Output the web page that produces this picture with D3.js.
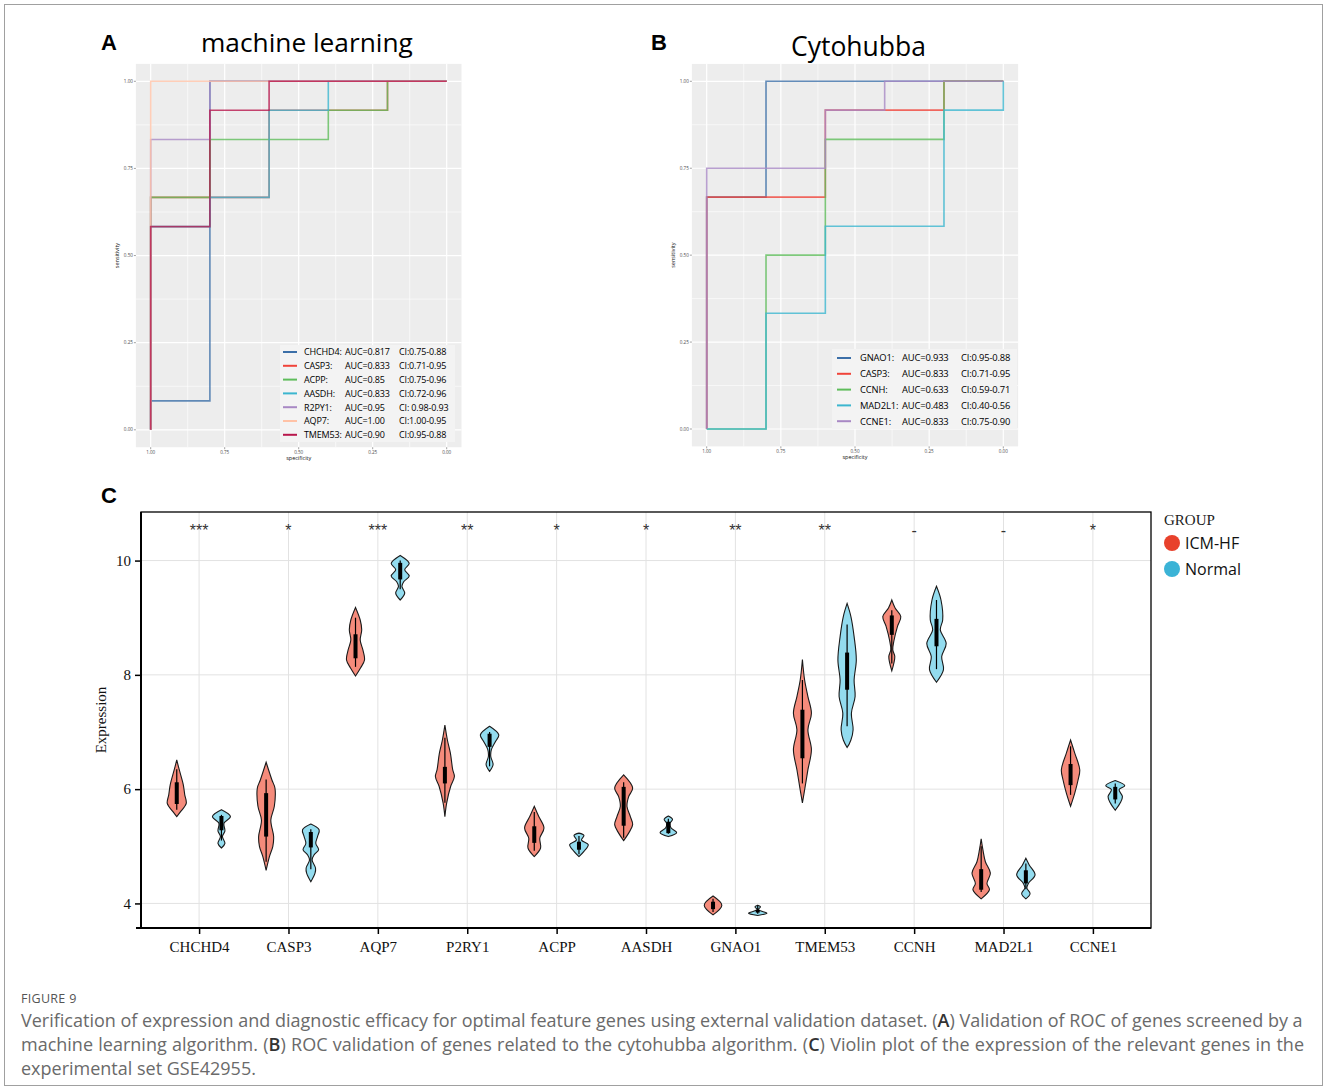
<!DOCTYPE html>
<html><head><meta charset="utf-8">
<script src="https://cdn.jsdelivr.net/npm/d3@7"></script>
<style>body{margin:0;background:#fff;} svg{display:block;}</style>
</head><body>
<script>
// ---------------- DATA ----------------
// Panel A: ROC (machine learning genes)
const rocGenesA = ["CHCHD4","CASP3","ACPP","AASDH","R2PY1","AQP7","TMEM53"];
const rocColorsA = ["#3C6FA8","#F0443A","#5FBD5B","#3CB6CF","#A888C4","#FFC2A6","#B8174C"];
const rocAucA = ["AUC=0.817","AUC=0.833","AUC=0.85","AUC=0.833","AUC=0.95","AUC=1.00","AUC=0.90"];
const rocCiA = ["CI:0.75-0.88","CI:0.71-0.95","CI:0.75-0.96","CI:0.72-0.96","CI: 0.98-0.93","CI:1.00-0.95","CI:0.95-0.88"];
const rocSpecA = [
  [1,1,0.8,0.8,0],
  [1,1,0.6,0.6,0.2,0.2,0],
  [1,1,0.8,0.8,0.4,0.4,0.2,0.2,0],
  [1,1,0.8,0.8,0.6,0.6,0.4,0.4,0],
  [1,1,0.8,0.8,0],
  [1,1,0],
  [1,1,0.8,0.8,0.6,0.6,0]
];
const rocSensA = [
  [0,0.083,0.083,1,1],
  [0,0.667,0.667,0.917,0.917,1,1],
  [0,0.667,0.667,0.833,0.833,0.917,0.917,1,1],
  [0,0.583,0.583,0.667,0.667,0.917,0.917,1,1],
  [0,0.833,0.833,1,1],
  [0,1,1],
  [0,0.583,0.583,0.917,0.917,1,1]
];
// Panel B: ROC (cytohubba genes)
const rocGenesB = ["GNAO1","CASP3","CCNH","MAD2L1","CCNE1"];
const rocColorsB = ["#3C6FA8","#F0443A","#5FBD5B","#3CB6CF","#A888C4"];
const rocAucB = ["AUC=0.933","AUC=0.833","AUC=0.633","AUC=0.483","AUC=0.833"];
const rocCiB = ["CI:0.95-0.88","CI:0.71-0.95","CI:0.59-0.71","CI:0.40-0.56","CI:0.75-0.90"];
const rocSpecB = [
  [1,1,0.8,0.8,0],
  [1,1,0.6,0.6,0.2,0.2,0],
  [1,0.8,0.8,0.6,0.6,0.2,0.2,0],
  [1,0.8,0.8,0.6,0.6,0.2,0.2,0,0],
  [1,1,0.6,0.6,0.4,0.4,0]
];
const rocSensB = [
  [0,0.667,0.667,1,1],
  [0,0.667,0.667,0.917,0.917,1,1],
  [0,0,0.5,0.5,0.833,0.833,1,1],
  [0,0,0.333,0.333,0.583,0.583,0.917,0.917,1],
  [0,0.75,0.75,0.917,0.917,1,1]
];
const rocTicks = [0,0.25,0.5,0.75,1];
const rocTickLabels = ["0.00","0.25","0.50","0.75","1.00"];
const rocMinor = [0.125,0.375,0.625,0.875];

// Panel C: violin plot
const genes = ["CHCHD4","CASP3","AQP7","P2RY1","ACPP","AASDH","GNAO1","TMEM53","CCNH","MAD2L1","CCNE1"];
const signif = ["***","*","***","**","*","*","**","**","-","-","*"];
const groups = ["ICM-HF","Normal"];
const groupFill = ["#F58B7B","#93DCEF"];
const groupDot = ["#E8412C","#3BB3D6"];
const yTicksC = [4,6,8,10];
// density profiles: [expression value, relative density]
const icmProfiles = [
  [[6.51,0],[6.34,0.25],[6.08,0.65],[5.90,0.8],[5.75,0.95],[5.61,0.4],[5.52,0]],
  [[6.47,0],[6.16,0.58],[6.02,0.88],[5.70,0.82],[5.46,0.47],[5.17,0.75],[5.0,0.67],[4.82,0.33],[4.58,0]],
  [[9.18,0],[8.96,0.47],[8.79,0.62],[8.61,0.47],[8.44,0.73],[8.26,0.9],[8.12,0.5],[7.98,0]],
  [[7.12,0],[6.86,0.25],[6.63,0.55],[6.34,0.78],[6.22,0.95],[6.05,0.58],[5.76,0.18],[5.52,0]],
  [[5.70,0],[5.52,0.45],[5.32,0.97],[5.14,0.55],[4.97,0.63],[4.82,0]],
  [[6.25,0],[6.02,0.9],[5.87,0.5],[5.70,0.33],[5.52,0.67],[5.38,0.9],[5.23,0.5],[5.10,0]],
  [[4.13,0],[3.97,0.88],[3.80,0]],
  [[8.27,0],[7.91,0.22],[7.62,0.55],[7.33,0.9],[7.04,0.55],[6.69,0.9],[6.34,0.55],[6.05,0.28],[5.76,0]],
  [[9.31,0],[9.17,0.33],[9.02,0.9],[8.85,0.57],[8.61,0.23],[8.44,0.1],[8.32,0.3],[8.07,0]],
  [[5.13,0],[4.94,0.17],[4.73,0.42],[4.53,0.92],[4.35,0.58],[4.24,0.83],[4.08,0]],
  [[6.86,0],[6.63,0.42],[6.34,0.92],[6.16,0.75],[5.93,0.42],[5.70,0]]
];
const normalProfiles = [
  [[5.64,0],[5.52,0.9],[5.40,0.25],[5.27,0.35],[5.17,0.1],[5.05,0.35],[4.97,0]],
  [[5.39,0],[5.29,0.83],[5.17,0.67],[5.05,0.5],[4.94,0.78],[4.85,0.33],[4.76,0.13],[4.62,0.47],[4.53,0.42],[4.38,0]],
  [[10.09,0],[9.95,0.9],[9.84,0.45],[9.73,0.9],[9.63,0.35],[9.55,0.17],[9.43,0.45],[9.31,0]],
  [[7.10,0],[6.95,0.92],[6.83,0.58],[6.69,0.18],[6.57,0.12],[6.43,0.35],[6.31,0]],
  [[5.23,0],[5.19,0.5],[5.11,0.25],[5.03,0.93],[4.91,0.5],[4.82,0]],
  [[5.53,0],[5.47,0.42],[5.40,0.17],[5.32,0.28],[5.24,0.83],[5.17,0]],
  [[3.97,0],[3.94,0.28],[3.89,0.05],[3.83,0.92],[3.79,0]],
  [[9.25,0],[9.02,0.38],[8.67,0.7],[8.26,0.92],[7.91,0.7],[7.62,0.8],[7.33,0.43],[7.04,0.6],[6.86,0.38],[6.73,0]],
  [[9.55,0],[9.31,0.45],[8.96,0.62],[8.79,0.38],[8.55,0.97],[8.32,0.52],[8.09,0.7],[7.87,0]],
  [[4.79,0],[4.67,0.35],[4.50,0.92],[4.35,0.25],[4.27,0.1],[4.17,0.42],[4.08,0]],
  [[6.15,0],[6.06,0.95],[5.99,0.38],[5.87,0.72],[5.76,0.5],[5.63,0]]
];
// box stats: [whisker low, q1, median, q3, whisker high]
const icmBoxes = [
  [5.64,5.74,5.92,6.12,6.35],[4.73,5.17,5.5,5.93,6.17],[8.14,8.29,8.5,8.71,9.0],
  [5.76,6.1,6.25,6.39,6.9],[4.92,5.06,5.2,5.35,5.6],[5.15,5.36,5.75,6.04,6.12],
  [3.85,3.9,3.96,4.03,4.08],[6.1,6.54,7.0,7.39,7.91],[8.2,8.7,8.85,9.04,9.13],
  [4.2,4.24,4.45,4.6,5.0],[5.9,6.07,6.25,6.44,6.75]
];
const normalBoxes = [
  [5.1,5.28,5.4,5.53,5.55],[4.6,4.98,5.1,5.25,5.3],[9.5,9.67,9.85,9.96,10.0],
  [6.4,6.74,6.9,6.97,7.0],[4.86,4.94,5.0,5.08,5.18],[5.22,5.23,5.3,5.43,5.48],
  [3.82,3.84,3.86,3.89,3.96],[7.1,7.74,8.05,8.39,8.88],[8.1,8.5,8.7,8.98,9.31],
  [4.25,4.35,4.47,4.58,4.7],[5.75,5.82,5.95,6.04,6.1]
];

// ---------------- DRAW ----------------
const W = 1328, H = 1090;
const svg = d3.select("body").append("svg").attr("width", W).attr("height", H)
  .style("font-family", "'Open Sans', sans-serif");
svg.append("rect").attr("width", W).attr("height", H).attr("fill", "#fff");
svg.append("rect").attr("x", 4.5).attr("y", 4.5).attr("width", 1318).attr("height", 1081)
  .attr("fill", "none").attr("stroke", "#a0a0a0");

function fitText(sel, target) {
  const w = sel.node().getComputedTextLength();
  const fs = parseFloat(sel.attr("font-size"));
  sel.attr("font-size", fs * target / w);
}

function drawRoc(o) {
  const g = svg.append("g");
  const x = d3.scaleLinear().domain([1, 0]).range(o.xr);
  const y = d3.scaleLinear().domain([0, 1]).range(o.yr);
  const L = x(1.05), R = x(-0.05), T = y(1.05), B = y(-0.05);
  g.append("rect").attr("x", L).attr("y", T).attr("width", R - L).attr("height", B - T).attr("fill", "#EDEDED");
  rocMinor.forEach(v => {
    g.append("line").attr("x1", x(v)).attr("x2", x(v)).attr("y1", T).attr("y2", B).attr("stroke", "#fff").attr("stroke-width", 0.6);
    g.append("line").attr("x1", L).attr("x2", R).attr("y1", y(v)).attr("y2", y(v)).attr("stroke", "#fff").attr("stroke-width", 0.6);
  });
  rocTicks.forEach((v, i) => {
    g.append("line").attr("x1", x(v)).attr("x2", x(v)).attr("y1", T).attr("y2", B).attr("stroke", "#fff").attr("stroke-width", 1.2);
    g.append("line").attr("x1", L).attr("x2", R).attr("y1", y(v)).attr("y2", y(v)).attr("stroke", "#fff").attr("stroke-width", 1.2);
    g.append("line").attr("x1", L - 2).attr("x2", L).attr("y1", y(v)).attr("y2", y(v)).attr("stroke", "#444").attr("stroke-width", 0.5);
    g.append("line").attr("x1", x(v)).attr("x2", x(v)).attr("y1", B).attr("y2", B + 2).attr("stroke", "#444").attr("stroke-width", 0.5);
    g.append("text").attr("x", L - 3).attr("y", y(v) + 1.5).attr("text-anchor", "end")
      .attr("font-size", 4.6).attr("fill", "#4d4d4d").text(rocTickLabels[i]);
    g.append("text").attr("x", x(v)).attr("y", B + 7).attr("text-anchor", "middle")
      .attr("font-size", 4.6).attr("fill", "#4d4d4d").text(rocTickLabels[i]);
  });
  g.append("text").attr("transform", `translate(${L - 17},${(T + B) / 2}) rotate(-90)`)
    .attr("text-anchor", "middle").attr("font-size", 5.5).attr("fill", "#111").text("sensitivity");
  g.append("text").attr("x", (L + R) / 2).attr("y", B + 13).attr("text-anchor", "middle")
    .attr("font-size", 5.5).attr("fill", "#111").text("specificity");
  const line = d3.line();
  o.spec.forEach((s, i) => {
    g.append("path").attr("d", line(s.map((v, j) => [x(v), y(o.sens[i][j])])))
      .attr("fill", "none").attr("stroke", o.colors[i]).attr("stroke-width", 1.6)
      .attr("stroke-opacity", 0.8).attr("stroke-linejoin", "miter");
  });
  // legend
  const lg = o.legend;
  g.append("rect").attr("x", lg.x0).attr("y", lg.y0).attr("width", lg.x1 - lg.x0).attr("height", lg.y1 - lg.y0).attr("fill", "#F3F3F3");
  o.genes.forEach((gn, i) => {
    const yy = lg.firstRow + i * lg.step;
    g.append("line").attr("x1", lg.keyX0).attr("x2", lg.keyX1).attr("y1", yy).attr("y2", yy)
      .attr("stroke", o.colors[i]).attr("stroke-width", 2);
    [[lg.nameX, gn + ":"], [lg.aucX, o.auc[i]], [lg.ciX, o.ci[i]]].forEach(([tx, t]) => {
      g.append("text").attr("x", tx).attr("y", yy + 3.3).attr("font-size", lg.fs).attr("fill", "#000")
        .attr("letter-spacing", -0.15).text(t);
    });
  });
}

drawRoc({
  xr: [150.7, 446.7], yr: [429.8, 81.3], genes: rocGenesA, colors: rocColorsA,
  spec: rocSpecA, sens: rocSensA, auc: rocAucA, ci: rocCiA,
  legend: {x0: 280, x1: 455, y0: 345, y1: 442, firstRow: 352, step: 13.8, keyX0: 283, keyX1: 297,
           nameX: 304, aucX: 345, ciX: 399, fs: 9}
});
drawRoc({
  xr: [706.7, 1003.3], yr: [429.0, 81.3], genes: rocGenesB, colors: rocColorsB,
  spec: rocSpecB, sens: rocSensB, auc: rocAucB, ci: rocCiB,
  legend: {x0: 832, x1: 1017, y0: 349, y1: 429, firstRow: 358, step: 15.8, keyX0: 837, keyX1: 851,
           nameX: 860, aucX: 902, ciX: 961, fs: 9.4}
});

// Titles and panel letters
const tA = svg.append("text").attr("x", 201).attr("y", 52).attr("font-size", 28).attr("fill", "#000").text("machine learning");
fitText(tA, 212);
const tB = svg.append("text").attr("x", 791).attr("y", 56).attr("font-size", 28).attr("fill", "#000").text("Cytohubba");
fitText(tB, 135);
[["A", 101, 50], ["B", 651, 50], ["C", 101, 503]].forEach(([t, xx, yy]) => {
  svg.append("text").attr("x", xx).attr("y", yy).attr("font-size", 22).attr("font-weight", "bold")
    .attr("font-family", "'Liberation Sans', Arial, sans-serif").attr("fill", "#000").text(t);
});

// ---------- Panel C ----------
const gC = svg.append("g");
const xC = d3.scalePoint().domain(genes).range([141, 1151]).padding(0.65);
const yC = d3.scaleLinear().domain([3.57, 10.85]).range([928, 512]);
const wS = d3.scaleLinear().domain([0, 1]).range([0, 10]);
const serif = "'Liberation Serif', 'Times New Roman', serif";

// grid
yTicksC.forEach(v => gC.append("line").attr("x1", 141).attr("x2", 1151).attr("y1", yC(v)).attr("y2", yC(v))
  .attr("stroke", "#E2E2E2").attr("stroke-width", 1));
genes.forEach(gn => gC.append("line").attr("x1", xC(gn)).attr("x2", xC(gn)).attr("y1", 512).attr("y2", 928)
  .attr("stroke", "#E2E2E2").attr("stroke-width", 1));

// violins
const profilesByGroup = [icmProfiles, normalProfiles];
const boxesByGroup = [icmBoxes, normalBoxes];
groups.forEach((grp, gi) => {
  const off = (gi === 0 ? -1 : 1) * xC.step() * 0.25;
  genes.forEach((gn, i) => {
    const cx = xC(gn) + off;
    const area = d3.area().y(d => yC(d[0])).x0(d => cx - wS(d[1])).x1(d => cx + wS(d[1]))
      .curve(d3.curveCatmullRom.alpha(0.5));
    gC.append("path").attr("d", area(profilesByGroup[gi][i])).attr("fill", groupFill[gi])
      .attr("stroke", "#1a1a1a").attr("stroke-width", 1.1);
    const b = boxesByGroup[gi][i];
    gC.append("line").attr("x1", cx).attr("x2", cx).attr("y1", yC(b[0])).attr("y2", yC(b[4]))
      .attr("stroke", "#000").attr("stroke-width", 1.2);
    gC.append("rect").attr("x", cx - 2).attr("width", 4).attr("y", yC(b[3])).attr("height", yC(b[1]) - yC(b[3]))
      .attr("fill", "#000");
  });
});

// significance labels
genes.forEach((gn, i) => {
  gC.append("text").attr("x", xC(gn)).attr("y", 536).attr("text-anchor", "middle")
    .attr("font-size", 16).attr("font-family", "'Liberation Sans', Arial, sans-serif").attr("fill", "#333").text(signif[i]);
});

// frame and axes
gC.append("rect").attr("x", 141).attr("y", 512).attr("width", 1010).attr("height", 416)
  .attr("fill", "none").attr("stroke", "#000").attr("stroke-width", 1.3);
gC.append("line").attr("x1", 141).attr("x2", 141).attr("y1", 512).attr("y2", 929).attr("stroke", "#000").attr("stroke-width", 2);
gC.append("line").attr("x1", 136).attr("x2", 1151).attr("y1", 928).attr("y2", 928).attr("stroke", "#000").attr("stroke-width", 2);

const yAx = gC.append("g").attr("transform", "translate(141,0)")
  .call(d3.axisLeft(yC).tickValues(yTicksC).tickSize(6).tickPadding(4).tickFormat(d3.format("d")));
yAx.select(".domain").remove();
yAx.selectAll("line").attr("stroke", "#000").attr("stroke-width", 1.5);
yAx.selectAll("text").attr("font-family", serif).attr("font-size", 15).attr("fill", "#111");

const xAx = gC.append("g").attr("transform", "translate(0,928)")
  .call(d3.axisBottom(xC).tickSize(6).tickPadding(7));
xAx.select(".domain").remove();
xAx.selectAll("line").attr("stroke", "#000").attr("stroke-width", 1.5);
xAx.selectAll("text").attr("font-family", serif).attr("font-size", 15).attr("fill", "#111");

gC.append("text").attr("transform", "translate(106,720) rotate(-90)").attr("text-anchor", "middle")
  .attr("font-family", serif).attr("font-size", 15).attr("fill", "#111").text("Expression");

// legend
gC.append("text").attr("x", 1164).attr("y", 525).attr("font-family", serif).attr("font-size", 15)
  .attr("fill", "#222").text("GROUP");
groups.forEach((grp, gi) => {
  const yy = 543 + gi * 26;
  gC.append("circle").attr("cx", 1172).attr("cy", yy).attr("r", 8).attr("fill", groupDot[gi]);
  gC.append("text").attr("x", 1185).attr("y", yy + 6).attr("font-size", 16).attr("fill", "#111").text(grp);
});

// ---------- caption ----------
svg.append("text").attr("x", 21).attr("y", 1003).attr("font-size", 12.5).attr("fill", "#555")
  .attr("letter-spacing", 0.3).text("FIGURE 9");
const capLines = [
  [["Verification of expression and diagnostic efficacy for optimal feature genes using external validation dataset. (",0],["A",1],[") Validation of ROC of genes screened by a",0]],
  [["machine learning algorithm. (",0],["B",1],[") ROC validation of genes related to the cytohubba algorithm. (",0],["C",1],[") Violin plot of the expression of the relevant genes in the",0]],
  [["experimental set GSE42955.",0]]
];
let capFs = 16.5;
capLines.forEach((ln, li) => {
  const t = svg.append("text").attr("x", 21).attr("y", 1027 + li * 24).attr("font-size", capFs).attr("fill", "#6a6a6a");
  ln.forEach(([s, b]) => t.append("tspan").attr("fill", b ? "#333" : null).attr("font-weight", b ? 600 : null).text(s));
  if (li === 0) { fitText(t, 1283); capFs = parseFloat(t.attr("font-size")); }
  else if (li === 1) {
    const w = t.node().getComputedTextLength();
    const spaces = ln.map(d => d[0]).join("").split(" ").length - 1;
    t.attr("word-spacing", (1283 - w) / spaces);
  }
});
</script></body></html>
